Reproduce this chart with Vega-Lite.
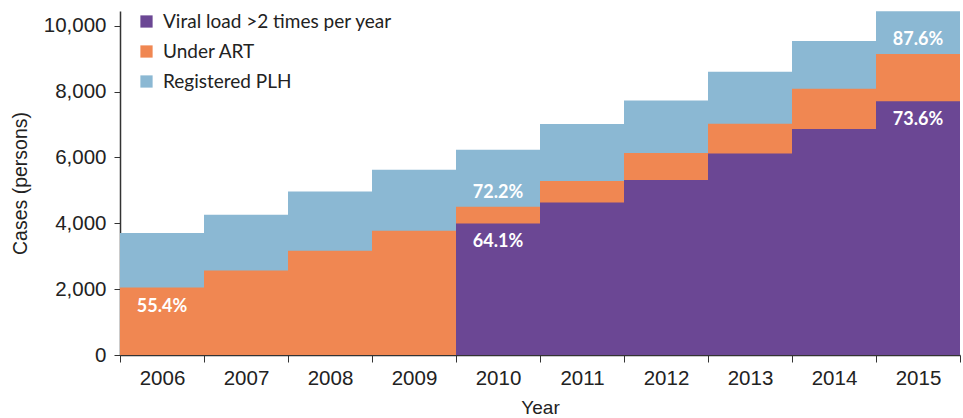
{
  "$schema": "https://vega.github.io/schema/vega-lite/v6.json",
  "width": 840,
  "height": 344,
  "autosize": {"type": "none"},
  "padding": {"left": 120, "top": 11, "right": 3, "bottom": 63},
  "background": "white",
  "config": {
    "view": {"stroke": null},
    "font": "Liberation Sans",
    "axis": {"labelFont": "Liberation Sans", "titleFont": "Liberation Sans", "labelColor": "#222", "titleColor": "#222", "domainColor": "#333", "tickColor": "#333", "titleFontWeight": "normal"}
  },
  "datasets": {
    "cases": [
      {"year": "2006", "plh": 3705, "art": 2050},
      {"year": "2007", "plh": 4260, "art": 2570},
      {"year": "2008", "plh": 4970, "art": 3167},
      {"year": "2009", "plh": 5627, "art": 3775},
      {"year": "2010", "plh": 6234, "art": 4505, "vl": 3996},
      {"year": "2011", "plh": 7015, "art": 5284, "vl": 4634},
      {"year": "2012", "plh": 7732, "art": 6134, "vl": 5314},
      {"year": "2013", "plh": 8603, "art": 7024, "vl": 6122},
      {"year": "2014", "plh": 9535, "art": 8087, "vl": 6863},
      {"year": "2015", "plh": 10446, "art": 9140, "vl": 7710}
    ],
    "labels_inside": [
      {"year": "2006", "value": 2050, "label": "55.4%"},
      {"year": "2010", "value": 3996, "label": "64.1%"},
      {"year": "2015", "value": 7710, "label": "73.6%"}
    ],
    "labels_above": [
      {"year": "2010", "value": 4505, "label": "72.2%"},
      {"year": "2015", "value": 9140, "label": "87.6%"}
    ]
  },
  "layer": [
    {
      "data": {"name": "cases"},
      "mark": {"type": "bar"},
      "encoding": {
        "x": {"field": "year", "type": "ordinal", "scale": {"paddingInner": 0, "paddingOuter": 0},
          "axis": {"title": "Year", "labelAngle": 0, "labelFontSize": 20.5, "titleFontSize": 19, "tickBand": "extent", "tickSize": 7, "labelPadding": 6, "titlePadding": 10, "domainWidth": 1.5}},
        "y": {"field": "plh", "type": "quantitative", "scale": {"domain": [0, 10450], "nice": false},
          "axis": {"title": "Cases (persons)", "values": [0, 2000, 4000, 6000, 8000, 10000], "format": ",.0f", "grid": false, "labelFontSize": 20.5, "titleFontSize": 19.5, "tickSize": 6, "labelPadding": 8, "titlePadding": 13, "domainWidth": 1.5}},
        "color": {"datum": "Registered PLH", "type": "nominal",
          "scale": {"domain": ["Viral load >2 times per year", "Under ART", "Registered PLH"], "range": ["#6B4794", "#F08752", "#8BB8D3"]},
          "legend": {"title": null, "orient": "none", "legendX": 17, "legendY": 1, "symbolType": "square", "symbolSize": 150, "symbolStrokeWidth": 0, "labelFontSize": 19, "labelFont": "Lato", "labelColor": "#222", "labelLimit": 400, "rowPadding": 10, "labelOffset": 7}}
      }
    },
    {
      "data": {"name": "cases"},
      "mark": {"type": "bar"},
      "encoding": {
        "x": {"field": "year", "type": "ordinal"},
        "y": {"field": "art", "type": "quantitative"},
        "color": {"datum": "Under ART", "type": "nominal"}
      }
    },
    {
      "data": {"name": "cases"},
      "mark": {"type": "bar"},
      "encoding": {
        "x": {"field": "year", "type": "ordinal"},
        "y": {"field": "vl", "type": "quantitative"},
        "color": {"datum": "Viral load >2 times per year", "type": "nominal"}
      }
    },
    {
      "data": {"name": "labels_inside"},
      "mark": {"type": "text", "color": "white", "font": "Lato", "fontWeight": "bold", "fontSize": 18, "baseline": "middle", "dy": 19},
      "encoding": {
        "x": {"field": "year", "type": "ordinal"},
        "y": {"field": "value", "type": "quantitative"},
        "text": {"field": "label"}
      }
    },
    {
      "data": {"name": "labels_above"},
      "mark": {"type": "text", "color": "white", "font": "Lato", "fontWeight": "bold", "fontSize": 18, "baseline": "middle", "dy": -14},
      "encoding": {
        "x": {"field": "year", "type": "ordinal"},
        "y": {"field": "value", "type": "quantitative"},
        "text": {"field": "label"}
      }
    }
  ]
}
